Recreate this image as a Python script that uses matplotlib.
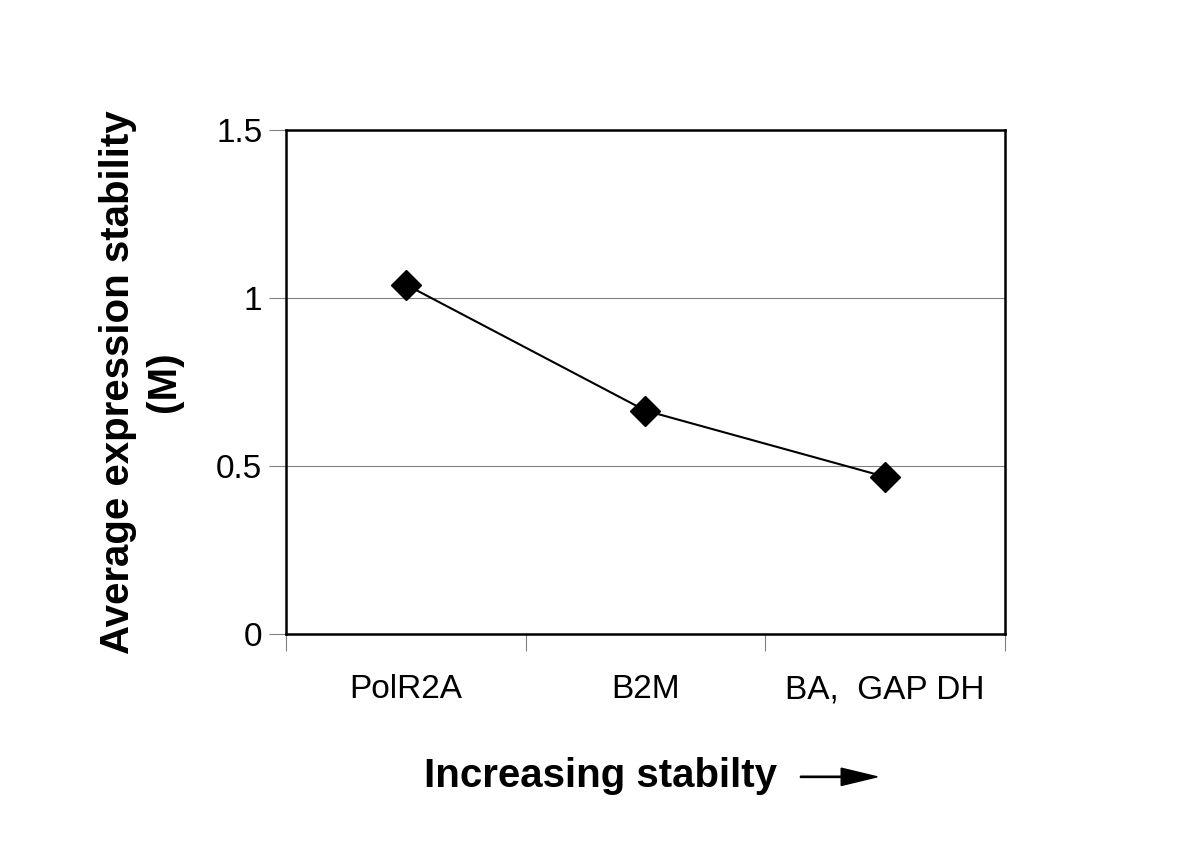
import numpy as np
import matplotlib.pyplot as plt

plt.rcParams['font.family'] = ['Liberation Sans', 'DejaVu Sans']

genes = ["PolR2A", "B2M", "BA,  GAP DH"]
stability = [1.04, 0.665, 0.468]
yticks = [0, 0.5, 1, 1.5]
ytick_labels = ["0", "0.5", "1", "1.5"]

fig = plt.figure(figsize=(12, 8.67), dpi=100)
ax = fig.add_axes([0.2383, 0.2687, 0.5992, 0.5813])

x = np.arange(len(genes)) + 0.5
ax.plot(x, stability, color="black", lw=1.5, marker="D", markersize=15,
        markerfacecolor="black", markeredgecolor="black", zorder=3)

ax.set_xlim(0, len(genes))
ax.set_ylim(0, 1.5)
ax.set_yticks(yticks)
ax.set_yticklabels(ytick_labels)
ax.set_xticks(np.arange(len(genes) + 1))
ax.set_xticklabels([])
ax.set_xticks(x, minor=True)
ax.set_xticklabels(genes, minor=True)
ax.tick_params(axis="x", which="minor", length=0, labelsize=24, pad=29)
ax.tick_params(axis="x", which="major", length=12, width=0.8, color="gray")
ax.tick_params(axis="y", length=12, width=0.8, color="gray", labelsize=24, pad=5)

ax.grid(axis="y", color="gray", lw=0.8)
ax.set_axisbelow(True)
for s in ax.spines.values():
    s.set_linewidth(1.8)

ax.set_ylabel("Average expression stability\n(M)", fontsize=29, fontweight="bold",
              labelpad=24, linespacing=1.25)

fig.text(0.5, 0.105, "Increasing stabilty", fontsize=29, fontweight="bold",
         ha="center", va="center")
fig.patches.append(plt.matplotlib.patches.FancyArrow(
    0.667, 0.104, 0.064, 0, width=0.0015, head_width=0.02, head_length=0.03,
    length_includes_head=True, color="black", transform=fig.transFigure))

fig.savefig("out.png", dpi=100)
